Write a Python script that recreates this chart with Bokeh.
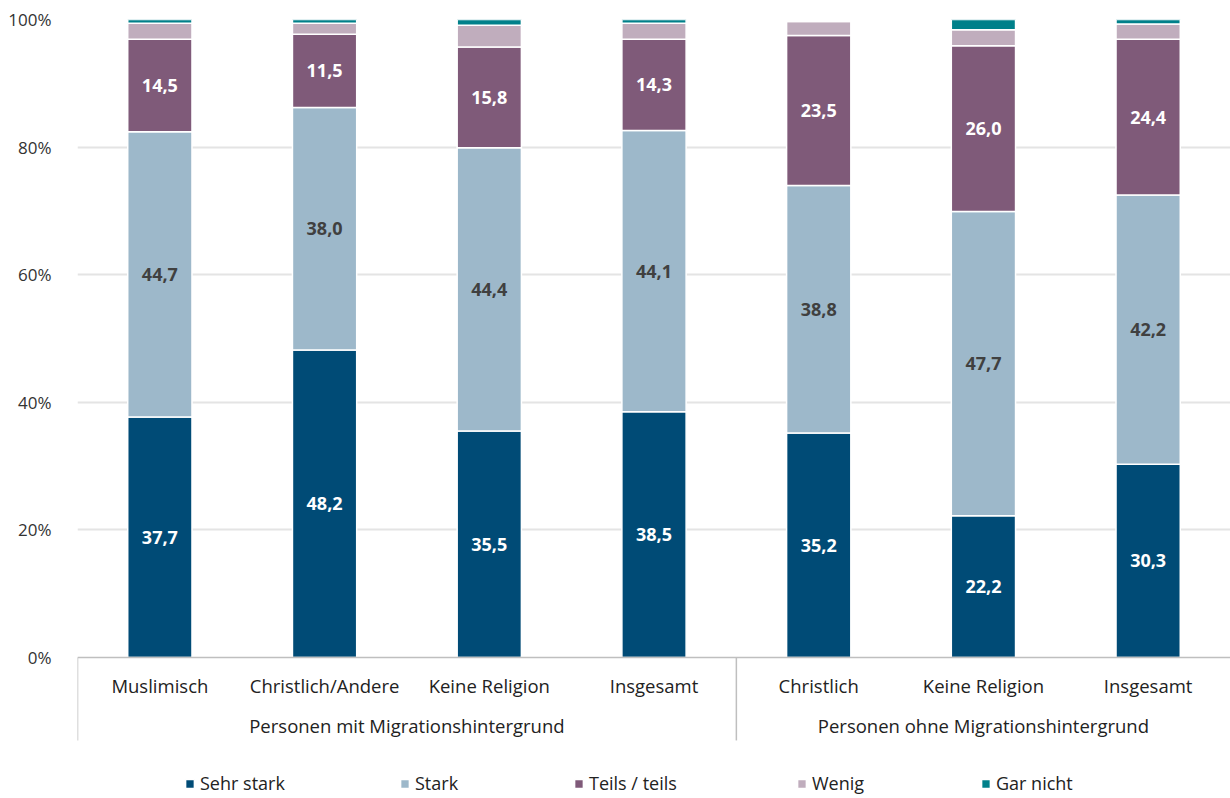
from bokeh.plotting import figure
from bokeh.models import Range1d, FixedTicker, ColumnDataSource, Legend, LegendItem, PrintfTickFormatter
from bokeh.embed import file_html
from bokeh.resources import INLINE
from bokeh.core.properties import value

# ---- data ----
categories = ["Muslimisch", "Christlich/Andere", "Keine Religion", "Insgesamt",
              "Christlich", "Keine Religion", "Insgesamt"]
groups = ["Personen mit Migrationshintergrund", "Personen ohne Migrationshintergrund"]
group_sizes = [4, 3]
series = ["Sehr stark", "Stark", "Teils / teils", "Wenig", "Gar nicht"]
sehr_stark = [37.7, 48.2, 35.5, 38.5, 35.2, 22.2, 30.3]
stark = [44.7, 38.0, 44.4, 44.1, 38.8, 47.7, 42.2]
teils = [14.5, 11.5, 15.8, 14.3, 23.5, 26.0, 24.4]
wenig = [2.5, 1.7, 3.4, 2.5, 2.2, 2.5, 2.4]
gar_nicht = [0.6, 0.6, 0.9, 0.6, 0.0, 1.6, 0.7]
y_ticks = [0, 20, 40, 60, 80, 100]

colors = ["#004B76", "#9DB8CA", "#7F5A79", "#C0ADBD", "#00808A"]
label_colors = ["white", "#404040", "white"]
FONT_NAME = "Open Sans"
FONT = value(FONT_NAME)

xs = [i + 0.5 for i in range(len(categories))]
keys = ["s0", "s1", "s2", "s3", "s4"]
vals = [sehr_stark, stark, teils, wenig, gar_nicht]
src = ColumnDataSource(dict(x=xs, **{k: v for k, v in zip(keys, vals)}))

p = figure(width=1230, height=798, x_range=Range1d(0, 7), y_range=Range1d(-22.1, 100),
           output_backend="svg", toolbar_location=None,
           min_border_left=77, min_border_right=0, min_border_top=19, min_border_bottom=0)
p.outline_line_color = None
p.background_fill_color = "white"
p.border_fill_color = "white"

renderers = p.vbar_stack(keys, x="x", width=0.39, source=src, color=colors,
                         line_color="white", line_width=1.5)

# grid / axes
p.xgrid.visible = False
p.xaxis.visible = False
p.ygrid.ticker = FixedTicker(ticks=[t for t in y_ticks if t > 0])
p.ygrid.grid_line_color = "#E4E4E4"
p.ygrid.grid_line_width = 2
p.yaxis.ticker = FixedTicker(ticks=y_ticks)
p.yaxis.formatter = PrintfTickFormatter(format="%d%%")
p.yaxis.axis_line_color = None
p.yaxis.major_tick_line_color = None
p.yaxis.minor_tick_line_color = None
p.yaxis.major_label_standoff = 20
p.yaxis.major_label_text_font = FONT_NAME
p.yaxis.major_label_text_font_size = "17px"
p.yaxis.major_label_text_color = "#333333"

# baseline and group separators
p.segment(x0=[0], y0=[0], x1=[len(categories)], y1=[0], line_color="#BFBFBF", line_width=1.5)
bounds = [0]
for g in group_sizes:
    bounds.append(bounds[-1] + g)
sep = bounds[:-1]
p.segment(x0=sep, y0=[0] * len(sep), x1=sep, y1=[-13] * len(sep),
          line_color="#BFBFBF", line_width=1.5)

# value labels
base = [0.0] * len(categories)
for k in range(3):
    mids = [b + v / 2 for b, v in zip(base, vals[k])]
    txt = [f"{v:.1f}".replace(".", ",") for v in vals[k]]
    p.text(x=xs, y=mids, text=txt, text_align="center", text_baseline="middle",
           text_font=FONT, text_font_size="18px", text_font_style="bold",
           text_color=label_colors[k])
    base = [b + v for b, v in zip(base, vals[k])]

# category labels
p.text(x=xs, y=[-4.4] * len(xs), text=categories, text_align="center", text_baseline="middle",
       text_font=FONT, text_font_size="18.5px", text_color="#222222")
gx = [(bounds[i] + bounds[i + 1]) / 2 for i in range(len(groups))]
p.text(x=gx, y=[-10.66] * len(gx), text=groups, text_align="center", text_baseline="middle",
       text_font=FONT, text_font_size="18.5px", text_color="#222222")

# legend: one per item placed individually
leg_x = [184, 399, 573, 796, 980]
for r, name, lx in zip(renderers, series, leg_x):
    leg = Legend(items=[LegendItem(label=name, renderers=[r])], location=(lx - 77, 3),
                 padding=0, margin=0, spacing=0, glyph_width=11, glyph_height=11,
                 label_standoff=5, border_line_color=None, background_fill_alpha=0,
                 label_text_font=FONT_NAME, label_text_font_size="18px",
                 label_text_color="#222222")
    p.add_layout(leg)

open("out.html", "w").write(file_html(p, INLINE))
